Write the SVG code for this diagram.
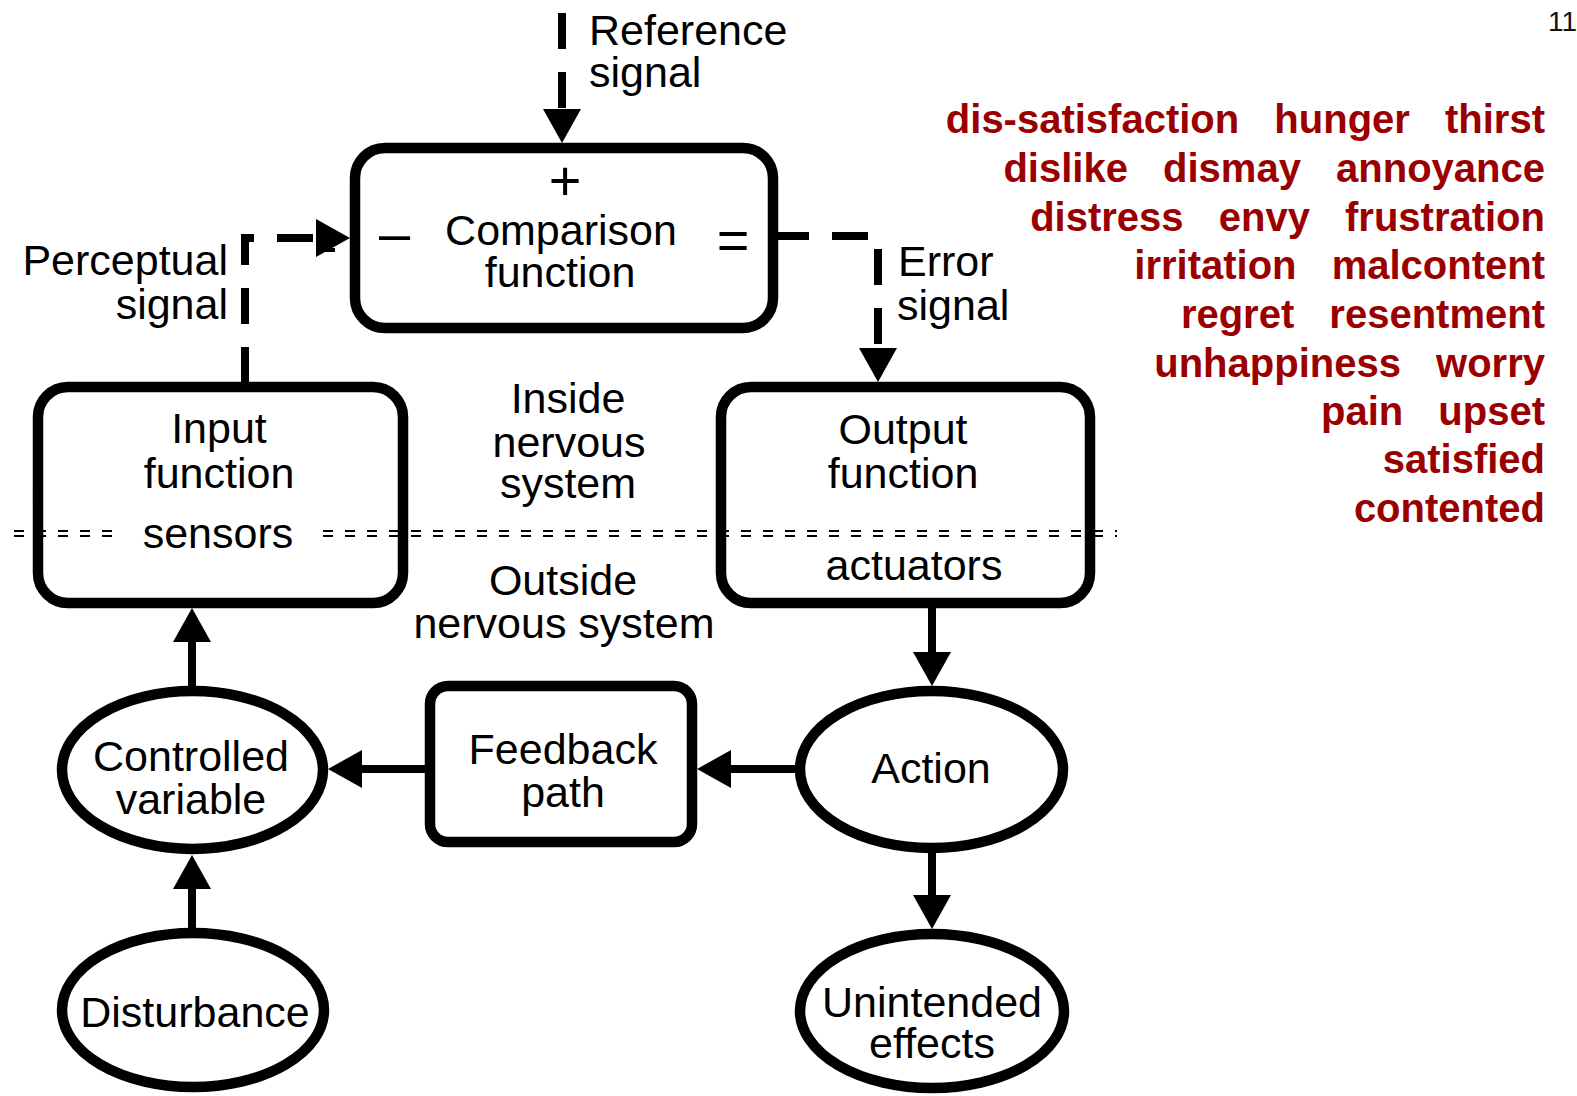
<svg xmlns="http://www.w3.org/2000/svg" width="1577" height="1096" viewBox="0 0 1577 1096">
  <style>
    .box { fill: #fff; stroke: #000; stroke-width: 10.5; }
    .lbl { font-family: "Liberation Sans", Arial, Helvetica, sans-serif; font-size: 43px; fill: #000; text-anchor: middle; }
    .sym { font-family: "Liberation Sans", Arial, Helvetica, sans-serif; font-size: 56px; fill: #000; text-anchor: middle; }
    .start { text-anchor: start; }
    .end { text-anchor: end; }
    .wire { fill: none; stroke: #000; stroke-width: 8; marker-end: url(#head); }
    .sig { stroke-dasharray: 36 23; }
    .border { fill: none; stroke: #000; stroke-width: 2; stroke-dasharray: 10 12; }
    .feel { font-family: "Liberation Sans", Arial, Helvetica, sans-serif; font-size: 40px; font-weight: bold; fill: #9b0000; text-anchor: end; word-spacing: 24px; }
  </style>
  <defs>
    <marker id="head" markerUnits="userSpaceOnUse" viewBox="0 0 34 38" markerWidth="34" markerHeight="38" refX="0" refY="19" orient="auto">
      <path d="M0,0 L34,19 L0,38 Z" fill="#000"/>
    </marker>
  </defs>

  <rect width="1577" height="1096" fill="#fff"/>

  <!-- nervous-system boundary (double dashed rule) -->
  <g id="boundary">
    <path class="border" d="M14,531 H112 M14,536 H112"/>
    <path class="border" d="M323,531 H1117 M323,536 H1117"/>
  </g>

  <!-- nodes -->
  <g id="comparison">
    <rect class="box" x="355" y="148" width="418" height="180" rx="30"/>
    <text class="sym" x="565" y="199.5">+</text>
    <text class="sym" x="394.5" y="251.5">–</text>
    <text class="sym" x="733" y="258.5">=</text>
    <text class="lbl" x="561" y="245">Comparison</text>
    <text class="lbl" x="560" y="287">function</text>
  </g>

  <g id="input-function">
    <rect class="box" x="38" y="387" width="365" height="216" rx="30" fill-opacity="0"/>
    <text class="lbl" x="219" y="443">Input</text>
    <text class="lbl" x="219" y="488">function</text>
    <text class="lbl" x="218" y="548">sensors</text>
  </g>

  <g id="output-function">
    <rect class="box" x="721" y="387" width="369" height="216" rx="30" fill-opacity="0"/>
    <text class="lbl" x="903" y="444">Output</text>
    <text class="lbl" x="903" y="488">function</text>
    <text class="lbl" x="914" y="580">actuators</text>
  </g>

  <g id="feedback-path">
    <rect class="box" x="430" y="686" width="262" height="156" rx="18"/>
    <text class="lbl" x="563" y="764">Feedback</text>
    <text class="lbl" x="563" y="807">path</text>
  </g>

  <g id="controlled-variable">
    <ellipse class="box" cx="192.5" cy="770" rx="130.5" ry="79"/>
    <text class="lbl" x="191" y="771">Controlled</text>
    <text class="lbl" x="191" y="814">variable</text>
  </g>

  <g id="disturbance">
    <ellipse class="box" cx="193" cy="1010" rx="131" ry="77"/>
    <text class="lbl" x="195" y="1027">Disturbance</text>
  </g>

  <g id="action">
    <ellipse class="box" cx="931.5" cy="769.5" rx="131.5" ry="78.5"/>
    <text class="lbl" x="931" y="783">Action</text>
  </g>

  <g id="unintended-effects">
    <ellipse class="box" cx="932" cy="1011" rx="132" ry="77"/>
    <text class="lbl" x="932" y="1017">Unintended</text>
    <text class="lbl" x="932" y="1058">effects</text>
  </g>

  <!-- free labels -->
  <g id="labels">
    <text class="lbl start" x="589" y="45">Reference</text>
    <text class="lbl start" x="589" y="87">signal</text>
    <text class="lbl end" x="228" y="275">Perceptual</text>
    <text class="lbl end" x="228" y="319">signal</text>
    <text class="lbl start" x="898" y="276">Error</text>
    <text class="lbl start" x="897" y="320">signal</text>
    <text class="lbl" x="568" y="413">Inside</text>
    <text class="lbl" x="569" y="457">nervous</text>
    <text class="lbl" x="568" y="498">system</text>
    <text class="lbl" x="563" y="595">Outside</text>
    <text class="lbl" x="564" y="638">nervous system</text>
  </g>

  <!-- connectors -->
  <g id="connectors">
    <path class="wire sig" d="M562,13 V109"/>
    <path class="wire sig" d="M245,383 V238 H316"/>
    <rect x="316" y="248" width="19" height="4" fill="#000"/>
    <path class="wire sig" d="M773,236 H878 V348"/>
    <path class="wire" d="M932,603 V652"/>
    <path class="wire" d="M932,848 V895"/>
    <path class="wire" d="M800,769 H731"/>
    <path class="wire" d="M430,769 H362"/>
    <path class="wire" d="M192,691 V642"/>
    <path class="wire" d="M192,933 V889"/>
  </g>

  <!-- list of feelings -->
  <g id="feelings">
    <text class="feel" x="1545" y="133">dis-satisfaction hunger thirst</text>
    <text class="feel" x="1545" y="182">dislike dismay annoyance</text>
    <text class="feel" x="1545" y="231">distress envy frustration</text>
    <text class="feel" x="1545" y="279">irritation malcontent</text>
    <text class="feel" x="1545" y="328">regret resentment</text>
    <text class="feel" x="1545" y="377">unhappiness worry</text>
    <text class="feel" x="1545" y="425">pain upset</text>
    <text class="feel" x="1545" y="473">satisfied</text>
    <text class="feel" x="1545" y="522">contented</text>
  </g>

  <text id="page-number" x="1577" y="31" font-family="Liberation Sans, Arial, sans-serif" font-size="28" fill="#111" text-anchor="end">11</text>
</svg>
